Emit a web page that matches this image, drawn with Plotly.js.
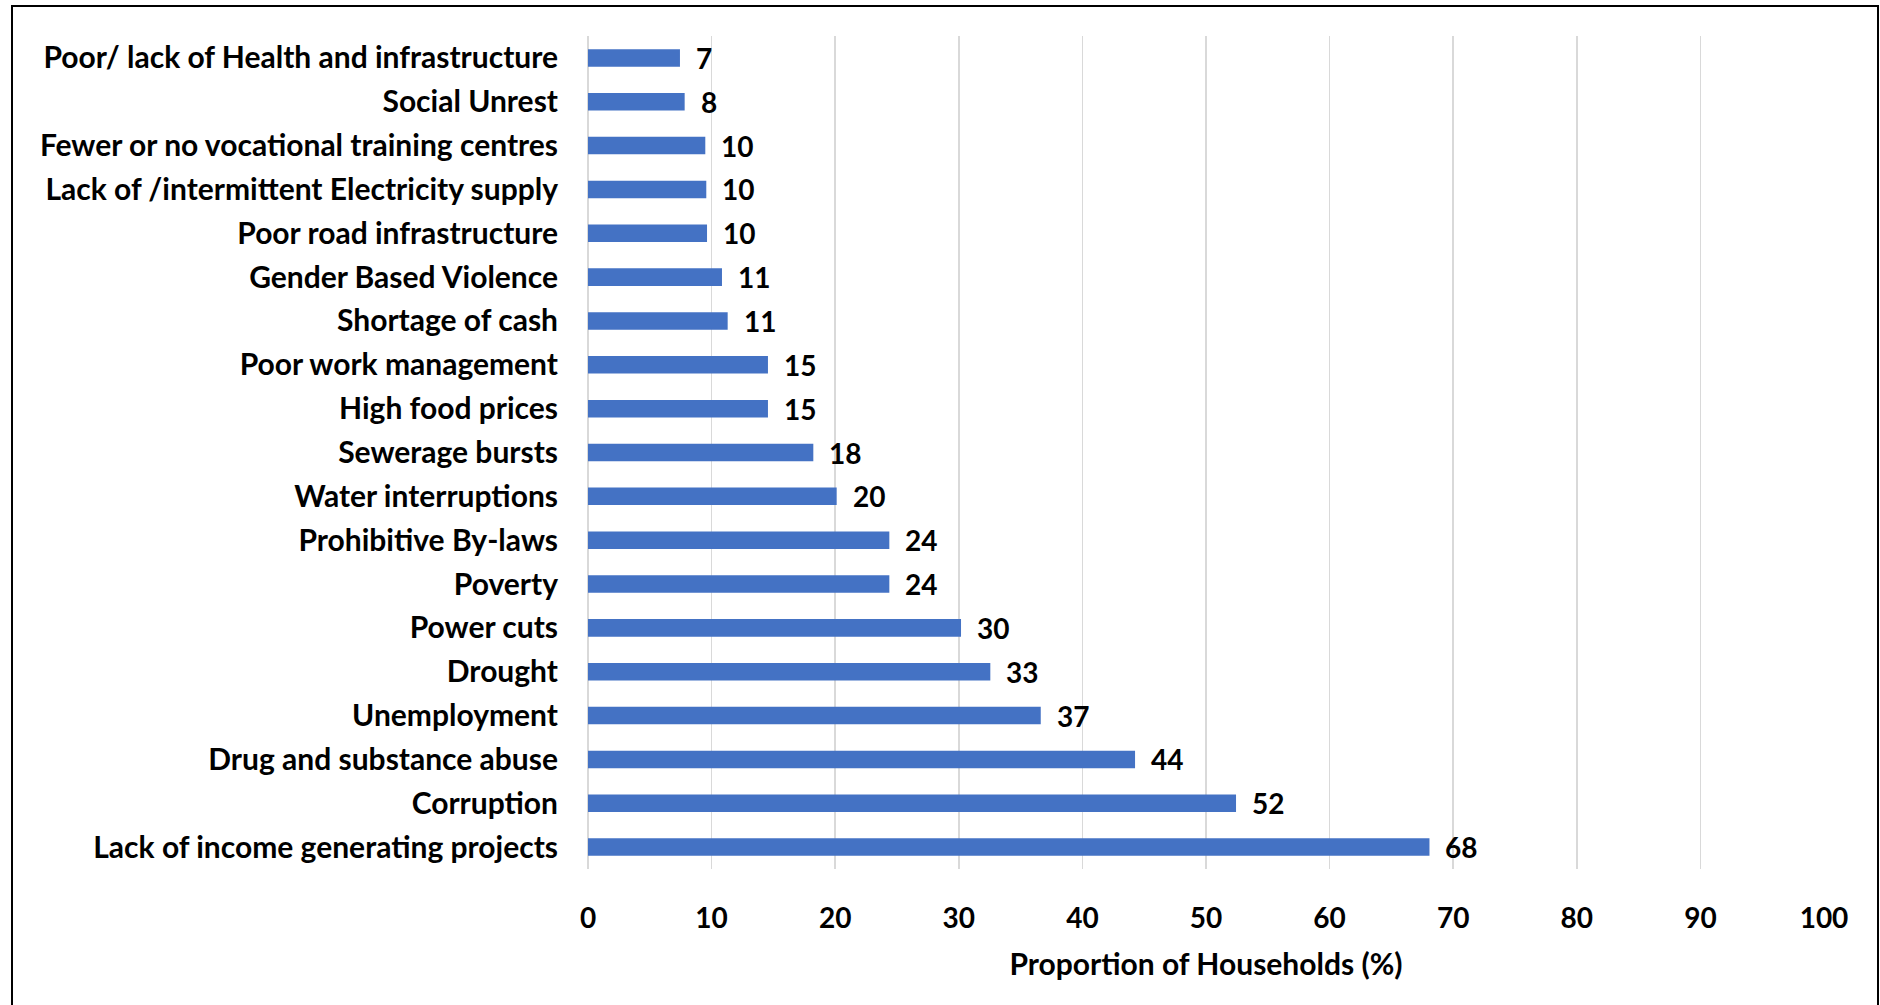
<!DOCTYPE html>
<html>
<head>
<meta charset="utf-8">
<script src="https://cdn.plot.ly/plotly-3.0.1.min.js"></script>
<style>
  html, body { margin: 0; padding: 0; background: #ffffff; overflow: hidden; }
  #chart { position: absolute; left: 0; top: 0; width: 1880px; height: 1005px; }
  #frame { position: absolute; left: 11px; top: 5px; width: 1864px; height: 1040px;
           border: 2px solid #000; pointer-events: none; }
</style>
</head>
<body>
<div id="chart"></div>
<div id="frame"></div>
<script>
// Categories listed from bottom to top of the chart
const categories = [
  "Lack of income generating projects",
  "Corruption",
  "Drug and substance abuse",
  "Unemployment",
  "Drought",
  "Power cuts",
  "Poverty",
  "Prohibitive By-laws",
  "Water interruptions",
  "Sewerage bursts",
  "High food prices",
  "Poor work management",
  "Shortage of cash",
  "Gender Based Violence",
  "Poor road infrastructure",
  "Lack of /intermittent Electricity supply",
  "Fewer or no vocational training centres",
  "Social Unrest",
  "Poor/ lack of Health and infrastructure"
];
const values = [68.08, 52.43, 44.26, 36.63, 32.55, 30.18, 24.38, 24.38, 20.12, 18.23,
                14.56, 14.56, 11.3, 10.84, 9.63, 9.57, 9.49, 7.82, 7.44];
const valueLabels = ["68", "52", "44", "37", "33", "30", "24", "24", "20", "18",
                     "15", "15", "11", "11", "10", "10", "10", "8", "7"];
const xTicks = [0, 10, 20, 30, 40, 50, 60, 70, 80, 90, 100];
const xTitle = "Proportion of Households (%)";

const FONT = "Lato, 'Open Sans', sans-serif";
const trace = {
  type: "bar",
  orientation: "h",
  x: values,
  y: categories,
  marker: { color: "#4472C4" },
  hoverinfo: "x+y"
};

const annotations = values.map((v, i) => ({
  x: v, y: categories[i], xref: "x", yref: "y",
  text: valueLabels[i], showarrow: false,
  xanchor: "left", yanchor: "middle", xshift: 14,
  font: { family: FONT, size: 28, color: "#000", weight: "bold" }
}));

const layout = {
  width: 1880, height: 1005,
  margin: { l: 588, r: 56, t: 36, b: 136, pad: 0 },
  paper_bgcolor: "#ffffff", plot_bgcolor: "#ffffff",
  bargap: 0.6,
  showlegend: false,
  font: { family: FONT, color: "#000" },
  xaxis: {
    range: [0, 100],
    tickvals: xTicks,
    ticktext: xTicks.map(String),
    showgrid: true, gridcolor: "#d9d9d9", gridwidth: 1.5,
    zeroline: true, zerolinecolor: "#d9d9d9", zerolinewidth: 1.5,
    showline: false, ticks: "",
    ticklabelstandoff: 30,
    tickfont: { family: FONT, size: 28, color: "#000", weight: "bold" },
    title: { text: xTitle, standoff: 20,
             font: { family: FONT, size: 30, color: "#000", weight: "bold" } },
    automargin: false, fixedrange: true
  },
  yaxis: {
    type: "category",
    showgrid: false, zeroline: false, showline: false, ticks: "",
    ticklabelstandoff: 29,
    tickfont: { family: FONT, size: 30, color: "#000", weight: "bold" },
    automargin: false, fixedrange: true
  },
  annotations: annotations
};

Plotly.newPlot("chart", [trace], layout, { displayModeBar: false, staticPlot: true });
</script>
</body>
</html>
